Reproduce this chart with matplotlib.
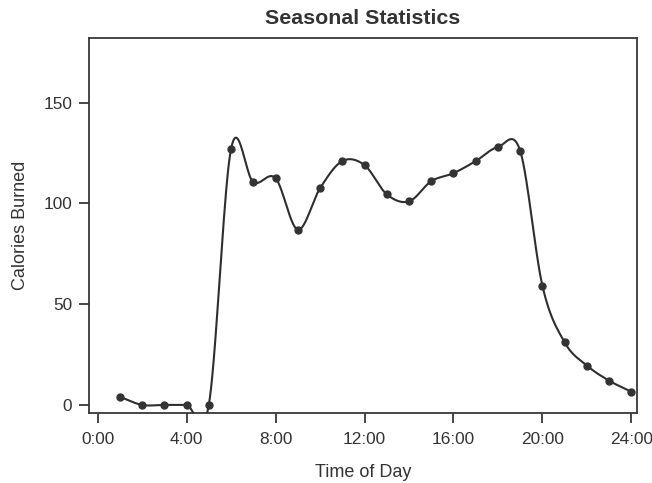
import numpy as np
import matplotlib.pyplot as plt

plt.rcParams['font.family'] = ['Liberation Sans', 'DejaVu Sans']

# Hour of day and calories burned
hours = [1, 2, 3, 4, 5, 6, 7, 8, 9, 10, 11, 12, 13, 14, 15, 16, 17, 18, 19, 20, 21, 22, 23, 24]
calories = [4, 0, 0, 0, 0, 127, 110.5, 112.5, 87, 107.5, 121, 119, 104.5, 101, 111, 115, 121, 128, 126, 59, 31, 19.5, 12, 6.5]

tick_hours = [0, 4, 8, 12, 16, 20, 24]
tick_labels = ["0:00", "4:00", "8:00", "12:00", "16:00", "20:00", "24:00"]


def smooth_line(x, y, n=40):
    # Catmull-Rom curve through the points, only used to draw the smooth line
    x = np.asarray(x, float)
    y = np.asarray(y, float)
    m = np.gradient(y, x)
    xs, ys = [], []
    for i in range(len(x) - 1):
        h = x[i + 1] - x[i]
        t = np.linspace(0, 1, n, endpoint=False)
        h00 = 2 * t ** 3 - 3 * t ** 2 + 1
        h10 = t ** 3 - 2 * t ** 2 + t
        h01 = -2 * t ** 3 + 3 * t ** 2
        h11 = t ** 3 - t ** 2
        xs.append(x[i] + t * h)
        ys.append(h00 * y[i] + h10 * h * m[i] + h01 * y[i + 1] + h11 * h * m[i + 1])
    xs.append([x[-1]])
    ys.append([y[-1]])
    return np.concatenate(xs), np.concatenate(ys)


fig, ax = plt.subplots(figsize=(6.52, 4.83), dpi=100)
fig.subplots_adjust(left=0.136, right=0.977, bottom=0.145, top=0.921)

sx, sy = smooth_line(hours, calories)
ax.plot(sx, sy, color='#2e2e2e', lw=1.5, zorder=3)
ax.plot(hours, calories, ls='None', marker='o', ms=5, color='#333333', zorder=4)

ax.set_xlim(-0.4, 24.25)
ax.set_ylim(-4, 182)
ax.set_xticks(tick_hours)
ax.set_xticklabels(tick_labels)
ax.set_yticks([0, 50, 100, 150])

for s in ax.spines.values():
    s.set_color('#383838')
    s.set_linewidth(1.3)

ax.tick_params(axis='both', direction='out', length=7, width=1.3, color='#383838',
               labelsize=12.4, labelcolor='#333333')
ax.tick_params(axis='x', pad=6.7)
ax.tick_params(axis='y', pad=5)

ax.set_title("Seasonal Statistics", fontsize=15.4, fontweight='bold', color='#333333', pad=10.5)
ax.set_xlabel("Time of Day", fontsize=13, color='#333333', labelpad=12)
ax.set_ylabel("Calories Burned", fontsize=13, color='#333333', labelpad=10)

fig.savefig("out.png", dpi=100, facecolor='w')
